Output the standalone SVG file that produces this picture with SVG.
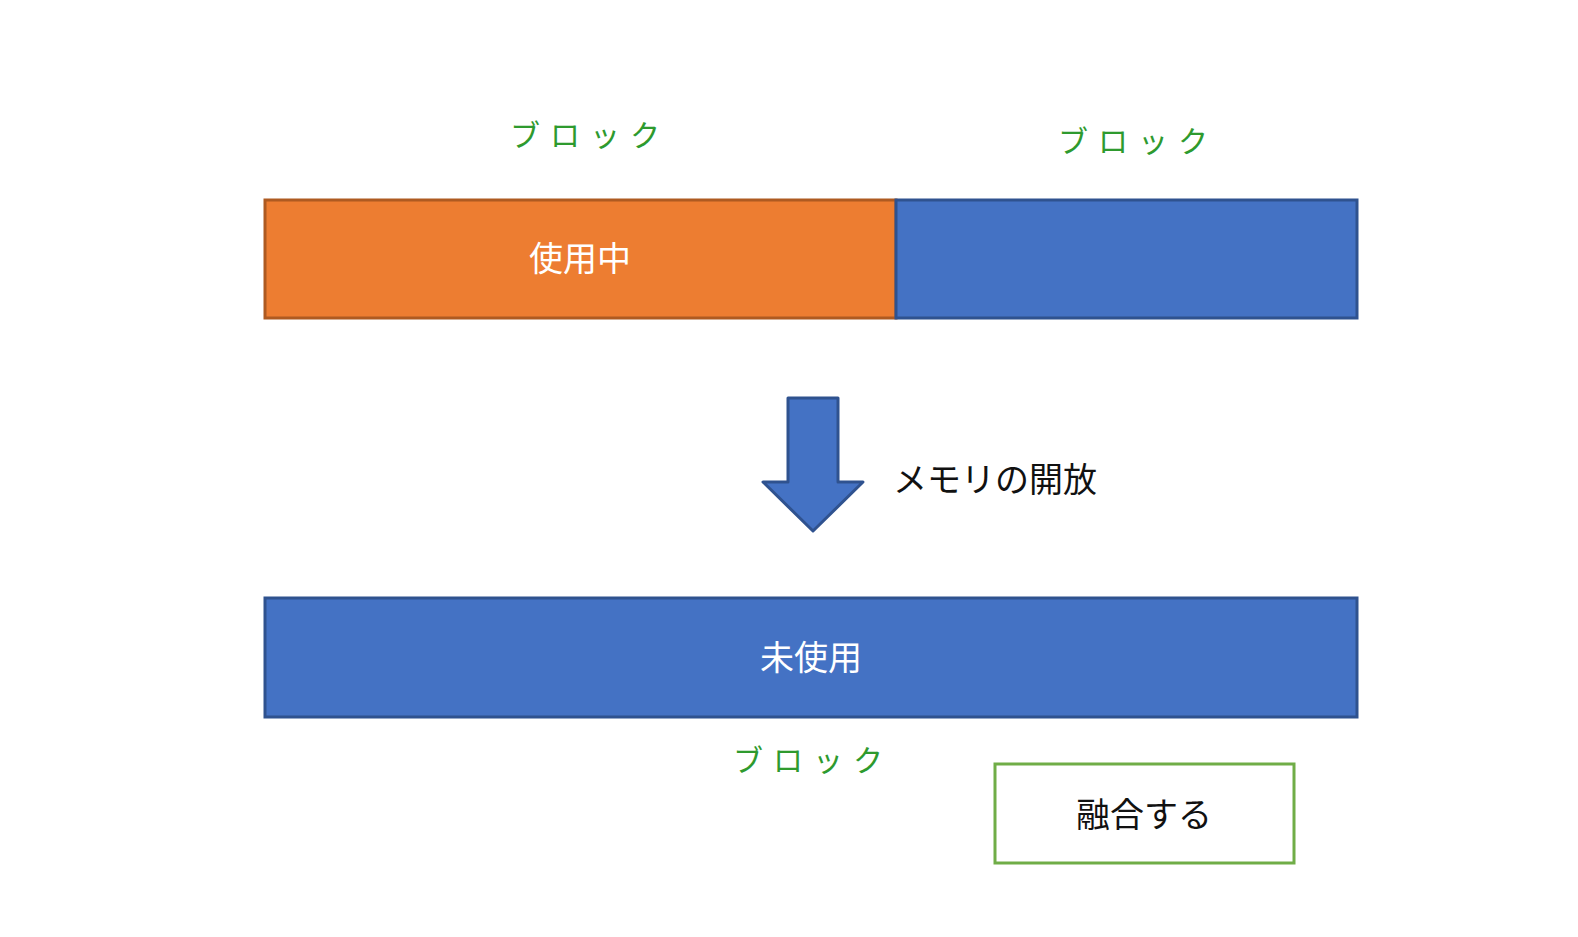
<svg xmlns="http://www.w3.org/2000/svg" width="1578" height="937" viewBox="0 0 1578 937">
<style>
.lbl{font-family:"Noto Sans CJK JP",sans-serif;font-size:30px;fill:#2e9a2e;letter-spacing:10px;text-anchor:middle}
.w{font-family:"Noto Sans CJK JP",sans-serif;font-size:34px;fill:#fff;text-anchor:middle}
.k{font-family:"Noto Sans CJK JP",sans-serif;font-size:34px;fill:#111}
.blue{fill:#4472c4;stroke:#2f528f;stroke-width:3}
</style>
<rect width="1578" height="937" fill="#fff"/>
<g id="used"><rect x="265" y="200" width="631" height="118" fill="#ed7d31" stroke="#ae5a21" stroke-width="3"/><text class="w" x="580" y="271">使用中</text></g>
<g id="free1"><rect class="blue" x="896" y="200" width="461" height="118"/></g>
<g id="lbl1"><text class="lbl" x="590" y="146">ブロック</text></g>
<g id="lbl2"><text class="lbl" x="1138" y="152">ブロック</text></g>
<g id="connectors"><path class="blue" d="M788,398 H838 V482 H863 L813,531 L763,482 H788 Z" stroke-linejoin="round"/></g>
<g id="release"><text class="k" x="893" y="492">メモリの開放</text></g>
<g id="merged"><rect class="blue" x="265" y="598" width="1092" height="119"/><text class="w" x="811" y="670">未使用</text></g>
<g id="lbl3"><text class="lbl" x="813" y="771">ブロック</text></g>
<g id="merge"><rect x="995" y="764" width="299" height="99" fill="#fff" stroke="#70ad47" stroke-width="3"/><text class="k" x="1144" y="827" text-anchor="middle">融合する</text></g>
</svg>
